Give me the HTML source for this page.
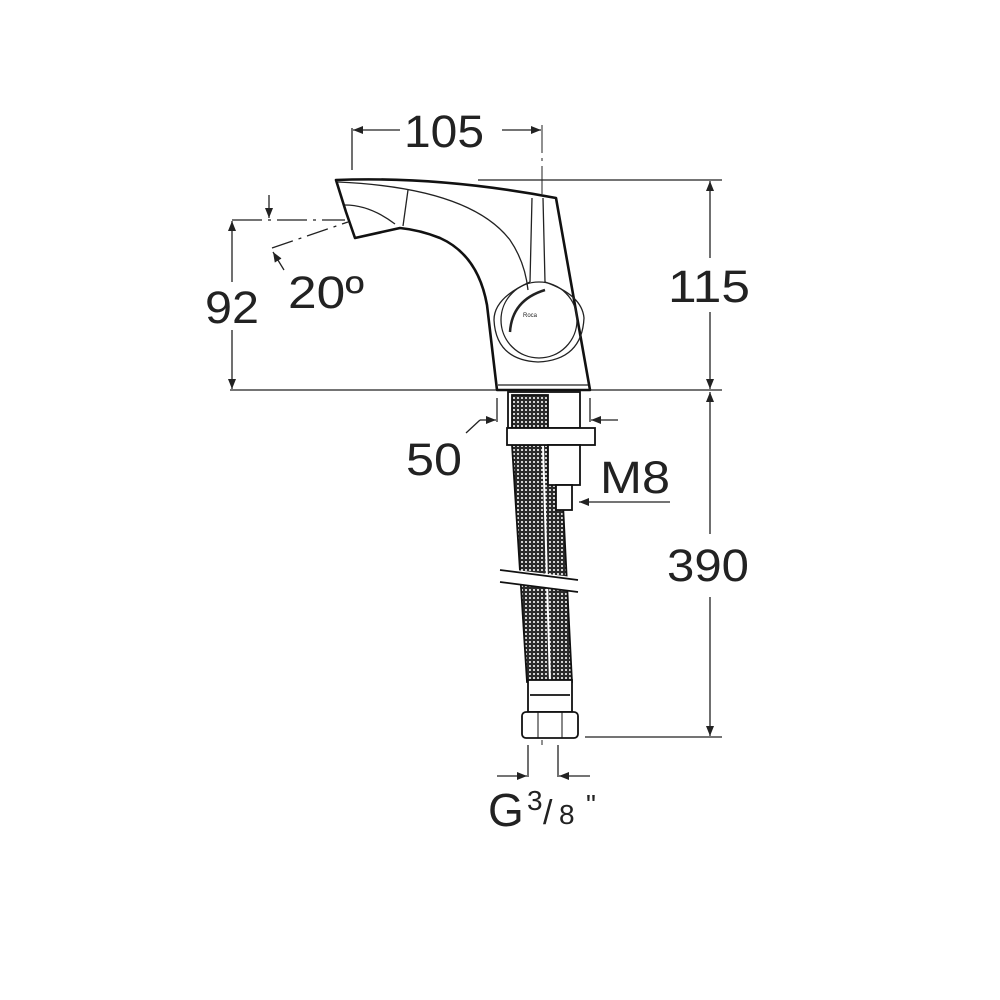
<!DOCTYPE html>
<html><head><meta charset="utf-8"><style>
html,body{margin:0;padding:0;background:#fff;}
svg{display:block;}
text{font-family:"Liberation Sans",Arial,sans-serif;fill:#222;}
</style></head><body>
<svg width="1000" height="1000" viewBox="0 0 1000 1000" xmlns="http://www.w3.org/2000/svg">
<defs>
<pattern id="mesh" width="4" height="4" patternUnits="userSpaceOnUse">
<rect width="4" height="4" fill="#2a2a2a"/>
<circle cx="2" cy="2" r="1.05" fill="#fff"/>
</pattern>
<marker id="ar" viewBox="0 0 10 10" refX="10" refY="5" markerWidth="10" markerHeight="10" markerUnits="userSpaceOnUse" orient="auto">
<path d="M0,1 L10,5 L0,9 z" fill="#222"/>
</marker>
</defs>
<g stroke="#222" fill="none" stroke-width="1.3">
<!-- 105 -->
<line x1="352" y1="128" x2="352" y2="170"/>
<line x1="400" y1="130" x2="353" y2="130" marker-end="url(#ar)"/>
<line x1="502" y1="130" x2="541" y2="130" marker-end="url(#ar)"/>
<line x1="542" y1="125" x2="542" y2="745" stroke-dasharray="28,5,3,5" stroke-width="1"/>
<!-- 115 / 390 -->
<line x1="478" y1="180" x2="722" y2="180"/>
<line x1="230" y1="390" x2="497" y2="390"/>
<line x1="590" y1="390" x2="722" y2="390"/>
<line x1="585" y1="737" x2="722" y2="737"/>
<line x1="710" y1="258" x2="710" y2="181" marker-end="url(#ar)"/>
<line x1="710" y1="312" x2="710" y2="389" marker-end="url(#ar)"/>
<line x1="710" y1="534" x2="710" y2="392" marker-end="url(#ar)"/>
<line x1="710" y1="597" x2="710" y2="736" marker-end="url(#ar)"/>
<!-- 92 -->
<line x1="232" y1="220" x2="345" y2="220" stroke-dasharray="30,6,3,6"/>
<line x1="232" y1="282" x2="232" y2="221" marker-end="url(#ar)"/>
<line x1="232" y1="330" x2="232" y2="389" marker-end="url(#ar)"/>
<line x1="269" y1="195" x2="269" y2="218" marker-end="url(#ar)"/>
<line x1="272" y1="248" x2="348" y2="222" stroke-dasharray="22,6,3,6"/>
<line x1="284" y1="270" x2="273" y2="252" marker-end="url(#ar)"/>
<!-- 50 -->
<line x1="497" y1="398" x2="497" y2="422"/>
<line x1="590" y1="398" x2="590" y2="422"/>
<line x1="480" y1="420" x2="496" y2="420" marker-end="url(#ar)"/>
<line x1="466" y1="433" x2="480" y2="420"/>
<line x1="618" y1="420" x2="591" y2="420" marker-end="url(#ar)"/>
<!-- M8 -->
<line x1="670" y1="502" x2="579" y2="502" marker-end="url(#ar)"/>
<!-- G3/8 -->
<line x1="528" y1="745" x2="528" y2="777"/>
<line x1="558" y1="745" x2="558" y2="777"/>
<line x1="497" y1="776" x2="527" y2="776" marker-end="url(#ar)"/>
<line x1="590" y1="776" x2="559" y2="776" marker-end="url(#ar)"/>
</g>
<!-- tap body -->
<g stroke="#111" fill="#fff" stroke-width="2.6" stroke-linejoin="round">
<path d="M336,180 Q440,176 556,198 L590,390 L497,390 L487,305 Q478,255 440,238 Q420,230 400,228 L355,238 L346,212 Z"/>
</g>
<g stroke="#222" fill="none" stroke-width="1.3">
<path d="M338,182 Q470,188 510,240 Q525,262 528,290"/>
<line x1="408" y1="190" x2="403" y2="226"/>
<path d="M345,205 Q370,205 395,224"/>
<path d="M532,198 L530,282 M543,198 L545,282"/>
<path d="M530,282 Q494,298 494,320 Q496,360 538,362 Q582,360 584,318 Q582,295 545,282"/>
<circle cx="539" cy="320" r="38"/>
<path d="M510,332 Q512,300 545,290" stroke-width="2.5"/>
<line x1="498" y1="385" x2="588" y2="385"/>
</g>
<text x="523" y="317" font-size="6">Roca</text>
<!-- hose assembly -->
<g stroke="#111" stroke-width="1.8">
<rect x="508" y="392" width="72" height="36" fill="#fff"/>
<rect x="512" y="395" width="36" height="33" fill="url(#mesh)"/>
<path d="M512,445 L527,682 L572,682 L560,445 Z" fill="url(#mesh)"/>
<line x1="543" y1="445" x2="550" y2="682" stroke="#fff" stroke-width="2"/>
<rect x="507" y="428" width="88" height="17" fill="#fff"/>
<rect x="548" y="445" width="32" height="40" fill="#fff"/>
<rect x="556" y="485" width="16" height="25" fill="#fff"/>
<path d="M500,568 L580,578 L580,592 L500,582 Z" fill="#fff" stroke="none"/>
<line x1="500" y1="570" x2="578" y2="580"/>
<line x1="500" y1="582" x2="578" y2="592"/>
<rect x="528" y="680" width="44" height="32" fill="#fff"/>
<line x1="530" y1="695" x2="570" y2="695"/>
<rect x="522" y="712" width="56" height="26" rx="4" fill="#fff"/>
<line x1="538" y1="712" x2="538" y2="738" stroke-width="1"/>
<line x1="562" y1="712" x2="562" y2="738" stroke-width="1"/>
</g>
<!-- labels -->
<text x="444" y="147" font-size="45" text-anchor="middle" textLength="80" lengthAdjust="spacingAndGlyphs">105</text>
<text x="709" y="302" font-size="45" text-anchor="middle" textLength="82" lengthAdjust="spacingAndGlyphs">115</text>
<text x="232" y="323" font-size="45" text-anchor="middle" textLength="54" lengthAdjust="spacingAndGlyphs">92</text>
<text x="288" y="308" font-size="45" textLength="76" lengthAdjust="spacingAndGlyphs">20º</text>
<text x="434" y="475" font-size="45" text-anchor="middle" textLength="56" lengthAdjust="spacingAndGlyphs">50</text>
<text x="600" y="493" font-size="45" textLength="70" lengthAdjust="spacingAndGlyphs">M8</text>
<text x="708" y="581" font-size="45" text-anchor="middle" textLength="82" lengthAdjust="spacingAndGlyphs">390</text>
<text x="488" y="826" font-size="46">G</text>
<text x="527" y="810" font-size="28">3</text>
<text x="543" y="824" font-size="34">/</text>
<text x="559" y="824" font-size="28">8</text>
<text x="586" y="814" font-size="28">"</text>
</svg>
</body></html>
